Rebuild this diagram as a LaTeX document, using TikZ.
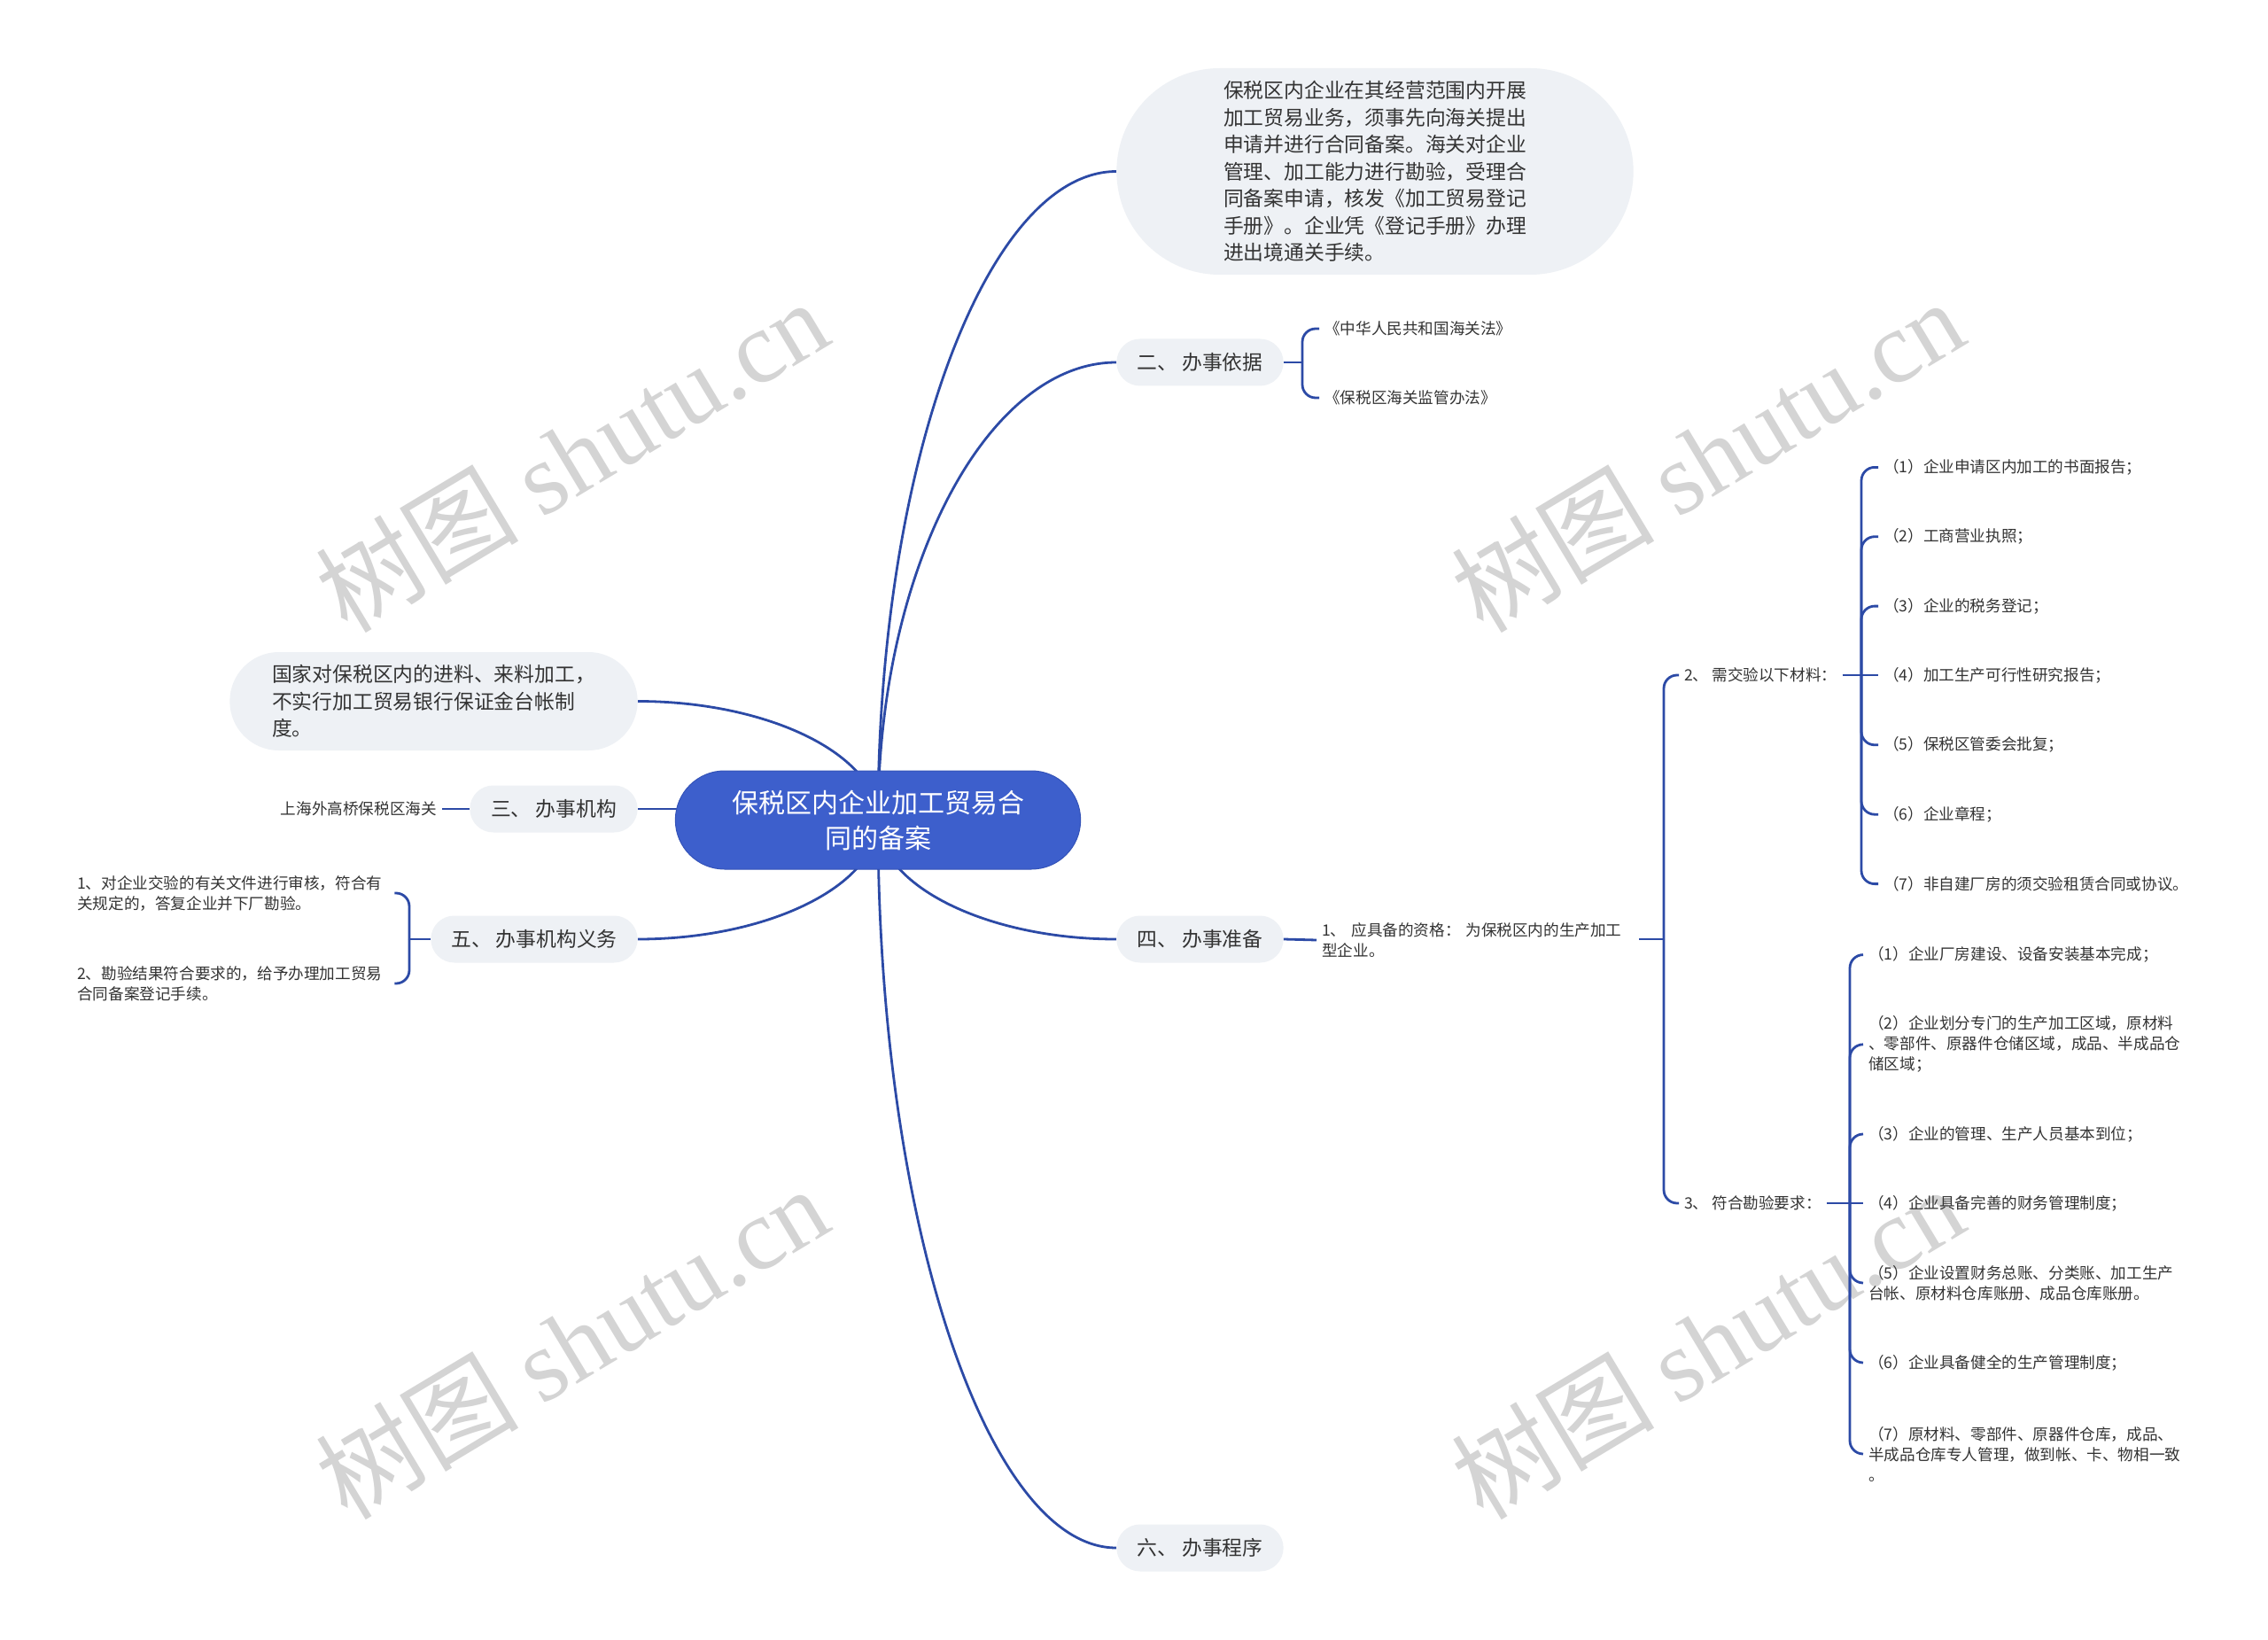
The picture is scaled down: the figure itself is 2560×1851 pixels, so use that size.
\documentclass[tikz,border=0pt]{standalone}
\usepackage{fontspec}
\setmainfont{Noto Sans CJK SC}
\newfontfamily\wmfont{Liberation Serif}
\usetikzlibrary{shapes.misc, backgrounds}
\definecolor{rootblue}{HTML}{3D5FCC}
\definecolor{rootedge}{HTML}{3453B8}
\definecolor{linkblue}{HTML}{2C4AA6}
\definecolor{topicgray}{HTML}{EEF1F5}
\definecolor{ink}{HTML}{333333}
\definecolor{wmgray}{HTML}{D4D4D4}

\begin{document}
\begin{tikzpicture}[x=1pt, y=-1pt,
		root/.style={rounded rectangle, fill=rootblue, draw=rootedge, line width=1pt, text=white, minimum width=464pt, minimum height=111pt, align=center, font=\fontsize{30pt}{40pt}\selectfont},
		topic/.style={rounded rectangle, fill=topicgray, text=ink, minimum height=53pt, align=left, font=\fontsize{22.8pt}{30.5pt}\selectfont},
		leaf/.style={text=ink, align=left, inner xsep=6pt, inner ysep=2pt, font=\fontsize{17.6pt}{23pt}\selectfont},
		link/.style={draw=linkblue, line width=2.8pt},
		fork/.style={link, rounded corners=15pt},
		wmark/.style={text=wmgray, rotate=31, font=\fontsize{115pt}{115pt}\selectfont}]
		\begin{scope}[on background layer]
			\path[use as bounding box, fill=white] (0,0) rectangle (2560,1851);
			\node[wmark] (wm1) at (645,514) {树图 {\wmfont shutu.cn}};
			\node[wmark] (wm2) at (1927,514) {树图 {\wmfont shutu.cn}};
			\node[wmark] (wm3) at (645,1515) {树图 {\wmfont shutu.cn}};
			\node[wmark] (wm4) at (1927,1515) {树图 {\wmfont shutu.cn}};
		\end{scope}

		\node[root] (root) at (991,925.5) {保税区内企业加工贸易合\\同的备案};

		\node[topic, minimum width=590pt, minimum height=233pt] (intro) at (1552,193.5) {保税区内企业在其经营范围内开展\\加工贸易业务，须事先向海关提出\\申请并进行合同备案。海关对企业\\管理、加工能力进行勘验，受理合\\同备案申请，核发《加工贸易登记\\手册》。企业凭《登记手册》办理\\进出境通关手续。};
		\node[topic, minimum width=195pt] (basis) at (1354.5,409) {二、 办事依据};
		\node[topic, minimum width=467pt, minimum height=111pt] (policy) at (489.5,791.5) {国家对保税区内的进料、来料加工，\\不实行加工贸易银行保证金台帐制\\度。};
		\node[topic, minimum width=196pt] (office) at (625,913) {三、 办事机构};
		\node[topic, minimum width=195pt] (prep) at (1354.5,1060) {四、 办事准备};
		\node[topic, minimum width=240pt] (duty) at (603,1060) {五、 办事机构义务};
		\node[topic, minimum width=195pt] (proc) at (1354.5,1747) {六、 办事程序};

		\node[leaf, anchor=west] (law1) at (1489,371) {《中华人民共和国海关法》};
		\node[leaf, anchor=west] (law2) at (1489,449) {《保税区海关监管办法》};
		\node[leaf, anchor=east] (customs) at (499,913) {上海外高桥保税区海关};
		\node[leaf, anchor=west, text width=352pt] (duty1) at (81,1008) {1、对企业交验的有关文件进行审核，符合有\\关规定的，答复企业并下厂勘验。};
		\node[leaf, anchor=west, text width=352pt] (duty2) at (81,1110) {2、勘验结果符合要求的，给予办理加工贸易\\合同备案登记手续。};
		\node[leaf, anchor=west, text width=352pt] (qual) at (1486,1061) {1、 应具备的资格： 为保税区内的生产加工\\型企业。};
		\node[leaf, anchor=west] (mat) at (1895,762) {2、 需交验以下材料：};
		\node[leaf, anchor=west] (req) at (1895,1358) {3、 符合勘验要求：};

		\node[leaf, anchor=west] (m1) at (2120,527.4) {（1）企业申请区内加工的书面报告；};
		\node[leaf, anchor=west] (m2) at (2120,605.7) {（2）工商营业执照；};
		\node[leaf, anchor=west] (m3) at (2120,684.1) {（3）企业的税务登记；};
		\node[leaf, anchor=west] (m4) at (2120,762) {（4）加工生产可行性研究报告；};
		\node[leaf, anchor=west] (m5) at (2120,840.8) {（5）保税区管委会批复；};
		\node[leaf, anchor=west] (m6) at (2120,919.2) {（6）企业章程；};
		\node[leaf, anchor=west] (m7) at (2120,997.6) {（7）非自建厂房的须交验租赁合同或协议。};

		\node[leaf, anchor=west] (r1) at (2103,1077.6) {（1）企业厂房建设、设备安装基本完成；};
		\node[leaf, anchor=west] (r2) at (2103,1178.8) {（2）企业划分专门的生产加工区域，原材料\\、零部件、原器件仓储区域，成品、半成品仓\\储区域；};
		\node[leaf, anchor=west] (r3) at (2103,1280) {（3）企业的管理、生产人员基本到位；};
		\node[leaf, anchor=west] (r4) at (2103,1358) {（4）企业具备完善的财务管理制度；};
		\node[leaf, anchor=west] (r5) at (2103,1448) {（5）企业设置财务总账、分类账、加工生产\\台帐、原材料仓库账册、成品仓库账册。};
		\node[leaf, anchor=west] (r6) at (2103,1538) {（6）企业具备健全的生产管理制度；};
		\node[leaf, anchor=west] (r7) at (2103,1641) {（7）原材料、零部件、原器件仓库，成品、\\半成品仓库专人管理，做到帐、卡、物相一致\\。};

		\coordinate (j2) at (1470,409);
		\coordinate (j5) at (462,1060);
		\coordinate (j4) at (1878,1060);
		\coordinate (jm) at (2101,762);
		\coordinate (jr) at (2088,1358);

		\begin{scope}[on background layer]
			\draw[link] (root.center) .. controls +(0,-403) and +(-146,0) .. (intro.west);
			\draw[link] (root.center) .. controls +(0,-284) and +(-146,0) .. (basis.west);
			\draw[link] (root.center) .. controls +(0,74) and +(-146,0) .. (prep.west);
			\draw[link] (root.center) .. controls +(0,452) and +(-146,0) .. (proc.west);
			\draw[link] (root.center) .. controls +(0,-74) and +(147,0) .. (policy.east);
			\draw[link] (root.center) .. controls +(0,74) and +(147,0) .. (duty.east);
			\draw[link] (office.east) -- (office.east -| root.center);
		\end{scope}

		\draw[link] (basis.east) -- (j2);
		\draw[fork] (j2) |- (law1.west);
		\draw[fork] (j2) |- (law2.west);

		\draw[link] (customs.east) -- (office.west);

		\draw[link] (duty.west) -- (j5);
		\draw[fork] (j5) |- (duty1.east);
		\draw[fork] (j5) |- (duty2.east);

		\draw[link] (prep.east) -- (qual.west);
		\draw[link] (qual.east |- j4) -- (j4);
		\draw[fork] (j4) |- (mat.west);
		\draw[fork] (j4) |- (req.west);

		\draw[link] (mat.east) -- (jm) -- (m4.west);
		\foreach \i in {1,2,3,5,6,7}
			\draw[fork] (jm) |- (m\i.west);

		\draw[link] (req.east) -- (jr) -- (r4.west);
		\foreach \i in {1,2,3,5,6,7}
			\draw[fork] (jr) |- (r\i.west);
	\end{tikzpicture}
\end{document}
